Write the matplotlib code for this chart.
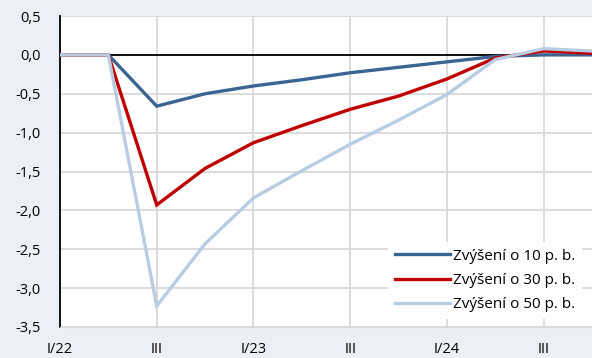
import matplotlib.pyplot as plt
import numpy as np

plt.rcParams['font.family'] = ['Open Sans', 'DejaVu Sans']

# quarters I/22 .. IV/24
quarters = list(range(12))
tick_pos = [0, 2, 4, 6, 8, 10]
tick_labels = ['I/22', 'III', 'I/23', 'III', 'I/24', 'III']

rise_10 = [0.0, 0.0, -0.66, -0.50, -0.40, -0.32, -0.23, -0.16, -0.09, -0.02, 0.0, 0.0]
rise_30 = [0.0, 0.0, -1.93, -1.46, -1.13, -0.91, -0.70, -0.53, -0.31, -0.04, 0.05, 0.02]
rise_50 = [0.0, 0.0, -3.23, -2.43, -1.84, -1.49, -1.15, -0.84, -0.51, -0.06, 0.08, 0.05]

labels = ['Zvýšení o 10 p. b.', 'Zvýšení o 30 p. b.', 'Zvýšení o 50 p. b.']
colors = ['#3a6491', '#c00000', '#b8cce4']

bg = '#eaf0f6'
fig = plt.figure(figsize=(5.92, 3.58), dpi=100, facecolor=bg)
ax = fig.add_axes([60/592, 1 - 327/358, 1 - 60/592, (327 - 16)/358])
ax.set_facecolor('white')

ax.set_xlim(0, 11)
ax.set_ylim(-3.5, 0.5)

yt = np.arange(-3.5, 0.51, 0.5)
ax.set_yticks(yt)
ax.set_yticklabels([f'{v:.1f}'.replace('.', ',') for v in yt])
ax.set_xticks(tick_pos)
ax.set_xticklabels(tick_labels)
ax.tick_params(length=0, labelsize=10.5, colors='black')
ax.tick_params(axis='y', pad=14)
ax.tick_params(axis='x', pad=11)

ax.grid(True, color='#d9d9d9', lw=1.3)
ax.set_axisbelow(True)
for s in ['top', 'right']:
    ax.spines[s].set_visible(False)
ax.spines['bottom'].set_color('#d9d9d9')
ax.spines['left'].set_color('black')
ax.spines['left'].set_linewidth(1.3)
ax.axhline(0, color='black', lw=1.3, zorder=1)

for vals, lab, col in zip([rise_10, rise_30, rise_50], labels, colors):
    ax.plot(quarters, vals, color=col, lw=2.4, label=lab, solid_joinstyle='miter', zorder=3)

leg = ax.legend(loc='lower right', bbox_to_anchor=(0.995, 0.0), frameon=True, fancybox=False,
                edgecolor='none', facecolor='white', framealpha=1, fontsize=11,
                handlelength=3.6, handletextpad=0.2, labelspacing=0.62, borderpad=0.45)

fig.savefig('out.png', dpi=100, facecolor=bg)
